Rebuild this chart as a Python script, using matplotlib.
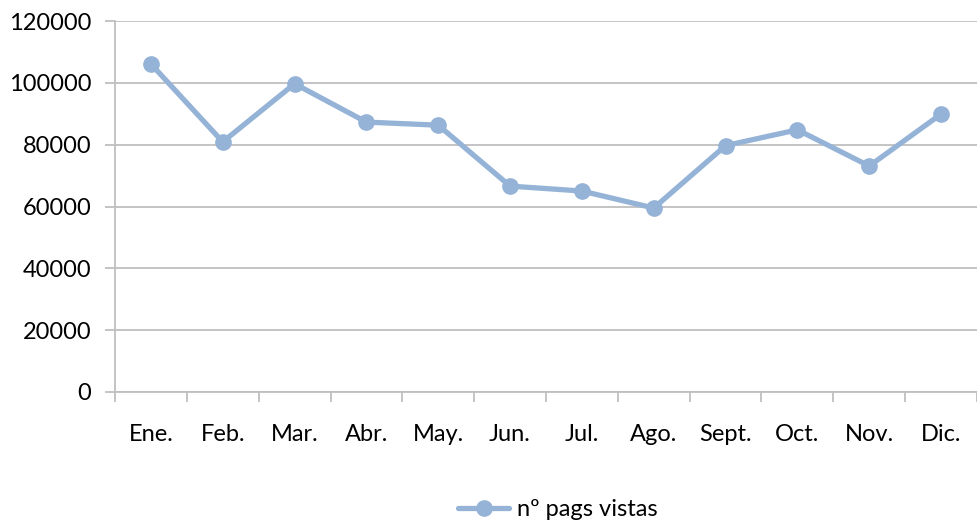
import matplotlib
matplotlib.use("Agg")
import matplotlib.pyplot as plt
import numpy as np

months = ["Ene.", "Feb.", "Mar.", "Abr.", "May.", "Jun.", "Jul.", "Ago.", "Sept.", "Oct.", "Nov.", "Dic."]
values = [106100, 80900, 99700, 87300, 86300, 66600, 65000, 59500, 79700, 84800, 73100, 89900]
yticks = [0, 20000, 40000, 60000, 80000, 100000, 120000]
series_name = "nº pags vistas"

plt.rcParams['font.family'] = ['Lato', 'DejaVu Sans']

fig = plt.figure(figsize=(9.77, 5.24), dpi=100)
ax = fig.add_axes([115/977, 1-392/524, (977-115)/977, (392-21)/524])

x = np.arange(len(months))
color = "#95B3D7"
ax.plot(x, values, color=color, lw=3.8, marker='o', ms=11, label=series_name,
        solid_capstyle='round', zorder=3)

ax.set_xlim(-0.5, len(months) - 0.5)
ax.set_ylim(0, 120000)
ax.set_yticks(yticks)
ax.set_yticklabels([str(v) for v in yticks])
ax.set_xticks(x)
ax.set_xticklabels(months)
ax.set_xticks(np.arange(-0.5, len(months) + 0.5, 1), minor=True)

grid_c = "#BFBFBF"
ax.grid(axis='y', color=grid_c, lw=1.3, zorder=0)
for s in ['top', 'right']:
    ax.spines[s].set_visible(False)
ax.spines['left'].set_color(grid_c)
ax.spines['left'].set_linewidth(1.3)
ax.spines['bottom'].set_color(grid_c)
ax.spines['bottom'].set_linewidth(1.3)

ax.tick_params(axis='y', length=7, width=1.3, color=grid_c, labelsize=17, pad=10, labelcolor='black')
ax.tick_params(axis='x', which='major', length=0, labelsize=17, pad=23, labelcolor='black')
ax.tick_params(axis='x', which='minor', length=7, width=1.3, color=grid_c)

leg = fig.legend(loc='center', bbox_to_anchor=(558/977, 1-510/524), frameon=False,
                 fontsize=17, handlelength=2.15, handletextpad=0.35)

fig.savefig("out.png", dpi=100)
